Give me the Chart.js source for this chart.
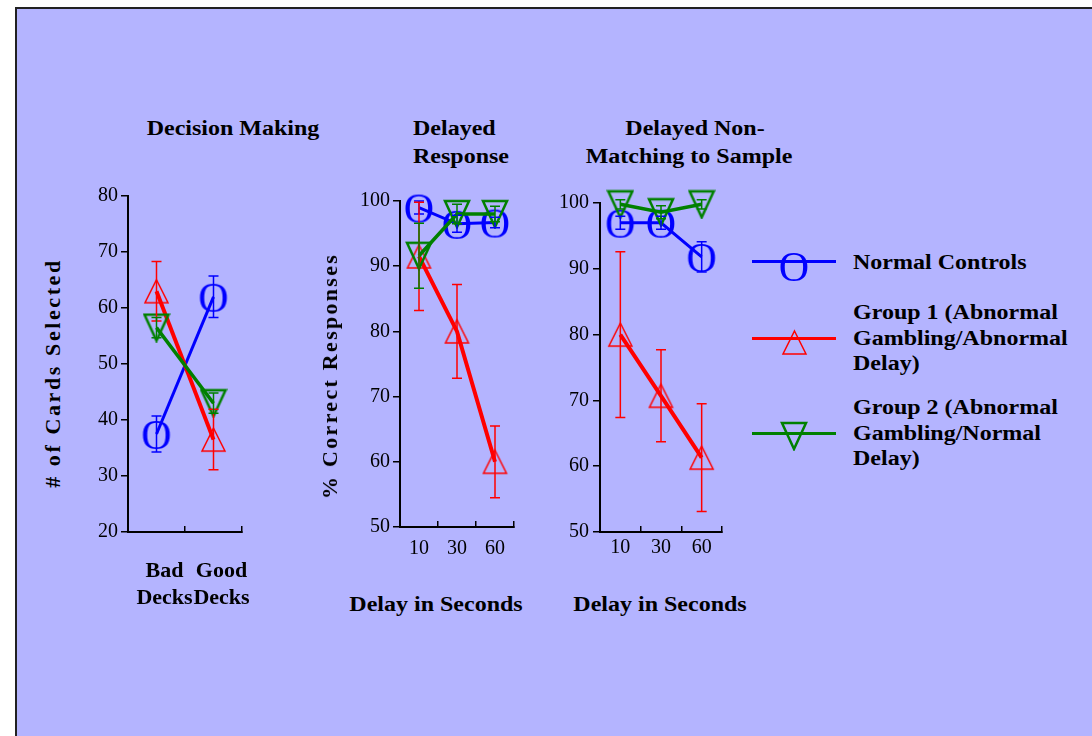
<!DOCTYPE html>
<html>
<head>
<meta charset="utf-8">
<script src="https://cdn.jsdelivr.net/npm/chart.js@4.4.1/dist/chart.umd.min.js"></script>
<style>
  body { margin: 0; background: #fff; width: 1092px; height: 736px; overflow: hidden; position: relative; }
  #panel { position: absolute; left: 15px; top: 7px; width: 1100px; height: 760px; background: #b4b4ff; border: 2px solid #222; }
  canvas { position: absolute; }
  .txt { position: absolute; font: bold 20px "Liberation Serif", "Times New Roman", serif; color: #000; white-space: nowrap; }
  .mid { transform: translate(-50%, -50%) scaleX(1.2); }
  .lft { transform-origin: left center; transform: translateY(-50%) scaleX(1.2); }
  .ytitle { font-size: 22px; transform: translate(-50%, -50%) rotate(-90deg); letter-spacing: 2.6px; }
  .legline { position: absolute; height: 3px; }
  .legmark { position: absolute; }
</style>
</head>
<body>
<div id="panel"></div>

<canvas id="decisionChart" width="172" height="440" style="left:90px;top:176px"></canvas>
<canvas id="responseChart" width="194" height="386" style="left:340px;top:181px"></canvas>
<canvas id="matchingChart" width="202" height="389" style="left:540px;top:183px"></canvas>

<div class="txt mid" style="left:233px;top:128px">Decision Making</div>
<div class="txt lft" style="left:413px;top:128px">Delayed</div>
<div class="txt lft" style="left:413px;top:156px">Response</div>
<div class="txt mid" style="left:695px;top:128px">Delayed Non-</div>
<div class="txt mid" style="left:689px;top:156px">Matching to Sample</div>

<div class="txt ytitle" style="left:53px;top:373px"># of Cards Selected</div>
<div class="txt ytitle" style="left:330px;top:376px;letter-spacing:2.3px">% Correct Responses</div>

<div class="txt mid" style="left:436px;top:604px">Delay in Seconds</div>
<div class="txt mid" style="left:660px;top:604px">Delay in Seconds</div>

<div id="legend"></div>

<script>
// --- Data ---
const deckLabels = [['Bad', 'Decks'], ['Good', 'Decks']];
const deckNormal = [37.5, 62];
const deckNormalErr = [3.2, 3.7];
const deckGroup1 = [63, 36.5];
const deckGroup1Err = [5.3, 5.4];
const deckGroup2 = [56.5, 43];
const deckGroup2Err = [1.8, 1.8];

const delayLabels = ['10', '30', '60'];

// Delayed Response
const respNormal = [99, 96.5, 96.7];
const respNormalErr = [1, 1.3, 0.8];
const respGroup1 = [91.5, 80, 60];
const respGroup1Err = [8.3, 7.2, 5.5];
const respGroup2 = [91.6, 98, 98];
const respGroup2Err = [5, 1.5, 1.2];

// Delayed Non-Matching to Sample
const matchNormal = [97, 97, 91.8];
const matchNormalErr = [1, 1, 2.3];
const matchGroup1 = [80, 70.7, 61.3];
const matchGroup1Err = [12.6, 7, 8.2];
const matchGroup2 = [99.8, 98.6, 99.8];
const matchGroup2Err = [0.7, 1, 0.7];

const groupNames = [
  ['Normal Controls'],
  ['Group 1 (Abnormal', 'Gambling/Abnormal', 'Delay)'],
  ['Group 2 (Abnormal', 'Gambling/Normal', 'Delay)']
];

const BLUE = 'rgb(0,0,255)';
const RED = 'rgb(255,0,0)';
const GREEN = 'rgb(0,128,0)';

// --- Marker images ---
function markerO(color) {
  const c = document.createElement('canvas');
  c.width = 36; c.height = 34;
  const ctx = c.getContext('2d');
  ctx.fillStyle = color;
  ctx.font = '42px "Liberation Serif"';
  ctx.textAlign = 'center';
  ctx.textBaseline = 'alphabetic';
  ctx.fillText('O', 18, 31.5);
  return c;
}

function markerTri(color, w, h, lw, down) {
  const c = document.createElement('canvas');
  c.width = w + 4; c.height = h + 4;
  const ctx = c.getContext('2d');
  ctx.strokeStyle = color;
  ctx.lineWidth = lw;
  ctx.lineJoin = 'miter';
  ctx.beginPath();
  if (down) {
    ctx.moveTo(2, 2); ctx.lineTo(w + 2, 2); ctx.lineTo(w / 2 + 2, h + 2);
  } else {
    ctx.moveTo(w / 2 + 2, 2); ctx.lineTo(w + 2, h + 2); ctx.lineTo(2, h + 2);
  }
  ctx.closePath();
  ctx.stroke();
  return c;
}

const markNormal = markerO(BLUE);
const markGroup1 = markerTri(RED, 23, 23, 1.5, false);
const markGroup2 = markerTri(GREEN, 24, 26, 2.5, true);

// --- Error bars ---
const errorBars = {
  id: 'errorBars',
  afterDatasetsDraw(chart) {
    const ctx = chart.ctx;
    const yScale = chart.scales.y;
    chart.data.datasets.forEach((ds, i) => {
      const meta = chart.getDatasetMeta(i);
      ctx.save();
      ctx.strokeStyle = ds.borderColor;
      ctx.lineWidth = 1.5;
      meta.data.forEach((pt, j) => {
        const top = yScale.getPixelForValue(ds.data[j] + ds.errors[j]);
        const bot = yScale.getPixelForValue(ds.data[j] - ds.errors[j]);
        ctx.beginPath();
        ctx.moveTo(pt.x, top); ctx.lineTo(pt.x, bot);
        ctx.moveTo(pt.x - 5, top); ctx.lineTo(pt.x + 5, top);
        ctx.moveTo(pt.x - 5, bot); ctx.lineTo(pt.x + 5, bot);
        ctx.stroke();
      });
      ctx.restore();
    });
  }
};

function series(data, errors, color, width, marker, order) {
  return {
    data: data,
    errors: errors,
    borderColor: color,
    borderWidth: width,
    pointStyle: marker,
    pointRadius: 14,
    tension: 0,
    clip: false,
    order: order
  };
}

function yAxis(min, max, width, padding) {
  return {
    min: min,
    max: max,
    ticks: { stepSize: 10, color: '#000', padding: padding, font: { family: 'Liberation Serif', size: 20 } },
    grid: { drawOnChartArea: false, tickLength: 7, color: '#000', lineWidth: 1.5 },
    border: { color: '#000', width: 2 },
    afterFit: s => { s.width = width; s.paddingTop = 0; s.paddingBottom = 0; }
  };
}

function xAxis(height, padding, font, labelOffset) {
  return {
    type: 'category',
    offset: true,
    grid: { offset: true, drawOnChartArea: false, tickLength: -6, color: '#000', lineWidth: 1.5 },
    border: { color: '#000', width: 2 },
    ticks: { color: '#000', padding: padding, font: font, labelOffset: labelOffset, maxRotation: 0, autoSkip: false },
    afterFit: s => { s.height = height; s.paddingLeft = 0; s.paddingRight = 0; }
  };
}

function makeChart(id, labels, sets, yMin, yMax, yWidth, yPad, xHeight, xPad, xFont, xOffset) {
  return new Chart(document.getElementById(id), {
    type: 'line',
    data: {
      labels: labels,
      datasets: [
        series(sets[0][0], sets[0][1], BLUE, 3, markNormal, 3),
        series(sets[1][0], sets[1][1], RED, 4, markGroup1, 2),
        series(sets[2][0], sets[2][1], GREEN, 3.5, markGroup2, 1)
      ]
    },
    options: {
      responsive: false,
      animation: false,
      devicePixelRatio: 1,
      layout: { padding: { top: 20, right: 20, left: 0, bottom: 0 } },
      plugins: { legend: { display: false }, tooltip: { enabled: false } },
      scales: {
        x: xAxis(xHeight, xPad, xFont, xOffset),
        y: yAxis(yMin, yMax, yWidth, yPad)
      }
    },
    plugins: [errorBars]
  });
}

makeChart('decisionChart', deckLabels,
  [[deckNormal, deckNormalErr], [deckGroup1, deckGroup1Err], [deckGroup2, deckGroup2Err]],
  20, 80, 38, 3, 84, 31.5, { family: 'Liberation Serif', size: 22, weight: 'bold', lineHeight: 1.227 }, 8);

makeChart('responseChart', delayLabels,
  [[respNormal, respNormalErr], [respGroup1, respGroup1Err], [respGroup2, respGroup2Err]],
  50, 100, 60, 3, 40, 16, { family: 'Liberation Serif', size: 20 }, 0);

makeChart('matchingChart', delayLabels,
  [[matchNormal, matchNormalErr], [matchGroup1, matchGroup1Err], [matchGroup2, matchGroup2Err]],
  50, 100, 60, 4, 40, 10, { family: 'Liberation Serif', size: 20 }, 0);

// --- Legend ---
const legend = document.getElementById('legend');
const legendColors = [BLUE, RED, GREEN];
const legendMarks = [markNormal, markGroup1, markGroup2];
const legendLineY = [261, 338, 433];
const legendMarkY = [266, 342, 436];
const legendTextY = [262, 312, 407];

groupNames.forEach((lines, i) => {
  const ln = document.createElement('div');
  ln.className = 'legline';
  ln.style.cssText = `left:752px;top:${legendLineY[i] - 1.5}px;width:84px;background:${legendColors[i]}`;
  legend.appendChild(ln);

  const img = document.createElement('img');
  img.className = 'legmark';
  const m = legendMarks[i];
  img.src = m.toDataURL();
  img.style.cssText = `left:${794 - m.width / 2}px;top:${legendMarkY[i] - m.height / 2}px`;
  legend.appendChild(img);

  lines.forEach((t, k) => {
    const d = document.createElement('div');
    d.className = 'txt lft';
    d.style.left = '853px';
    d.style.top = (legendTextY[i] + k * 25.5) + 'px';
    d.textContent = t;
    legend.appendChild(d);
  });
});
</script>
</body>
</html>
